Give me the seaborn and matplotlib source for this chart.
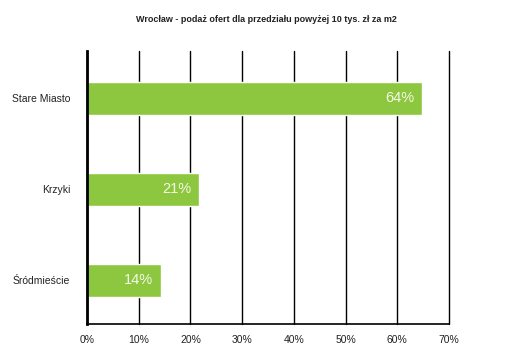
import pandas as pd
import matplotlib.pyplot as plt
import seaborn as sns

# ==========================
# DATA
# ==========================

districts = ["Stare Miasto", "Krzyki", "Śródmieście"]
shares = [64.8, 21.7, 14.3]
bar_labels = ["64%", "21%", "14%"]
x_ticks = [0, 10, 20, 30, 40, 50, 60, 70]
x_tick_labels = ["0%", "10%", "20%", "30%", "40%", "50%", "60%", "70%"]

df = pd.DataFrame({"district": districts, "share": shares})

# ==========================
# PLOT
# ==========================

sns.set_style("white")
plt.rcParams["font.family"] = ["Liberation Sans", "DejaVu Sans"]

fig = plt.figure(figsize=(5.27, 3.61), dpi=100)
ax = fig.add_axes([0.165, 0.1025, 0.687, 0.756])

sns.barplot(data=df, x="share", y="district", orient="h",
            color="#8DC63F", saturation=1, width=0.36, ax=ax, zorder=3)

ax.set_xlim(0, 70)
ax.set_ylim(2.48, -0.52)
ax.set_xticks(x_ticks)
ax.set_xticklabels(x_tick_labels, fontsize=7.5, color="#222222")
ax.tick_params(axis="y", labelsize=7.5, labelcolor="#222222", length=0, pad=12)
ax.tick_params(axis="x", length=0, pad=8)
ax.set_xlabel("")
ax.set_ylabel("")

ax.grid(axis="x", color="black", linewidth=1)
for line in ax.get_xgridlines():
    line.set_clip_on(False)
ax.set_axisbelow(True)
for s in ["top", "right"]:
    ax.spines[s].set_visible(False)
ax.spines["left"].set_color("black")
ax.spines["left"].set_linewidth(2)
ax.spines["left"].set_zorder(4)
ax.spines["bottom"].set_color("black")
ax.spines["bottom"].set_linewidth(1.2)

for i, (v, lab) in enumerate(zip(shares, bar_labels)):
    ax.text(v - 1.5, i, lab, ha="right", va="center",
            color="#F4F9E6", fontsize=10.5, zorder=5)

fig.text(0.505, 0.945, "Wrocław - podaż ofert dla przedziału powyżej 10 tys. zł za m2",
         ha="center", va="center", fontsize=6.5, fontweight="bold", color="#222222")

plt.savefig("out.png", dpi=100)
